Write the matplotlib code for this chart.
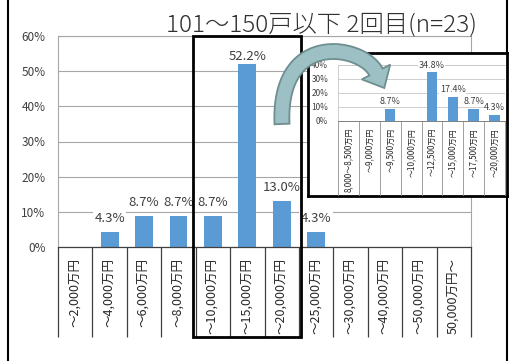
import matplotlib
matplotlib.use("Agg")
import matplotlib.pyplot as plt
import numpy as np
from matplotlib.patches import Rectangle, Polygon
from matplotlib.lines import Line2D

plt.rcParams['font.family'] = ['Noto Sans CJK JP', 'DejaVu Sans']

title = "101～150戸以下 2回目(n=23)"
categories = ["～2,000万円", "～4,000万円", "～6,000万円", "～8,000万円", "～10,000万円",
              "～15,000万円", "～20,000万円", "～25,000万円", "～30,000万円", "～40,000万円",
              "～50,000万円", "50,000万円～"]
values = [0, 4.3, 8.7, 8.7, 8.7, 52.2, 13.0, 4.3, 0, 0, 0, 0]
yticks = [0, 10, 20, 30, 40, 50, 60]

inset_categories = ["8,000～8,500万円", "～9,000万円", "～9,500万円", "～10,000万円",
                    "～12,500万円", "～15,000万円", "～17,500万円", "～20,000万円"]
inset_values = [0, 0, 8.7, 0, 34.8, 17.4, 8.7, 4.3]
inset_yticks = [0, 10, 20, 30, 40]

W, H = 511, 361
def fx(px): return px / W
def fy(py): return 1 - py / H

fig = plt.figure(figsize=(W / 100, H / 100), dpi=100)
fig.patch.set_facecolor('white')

BAR = '#5b9bd5'
GRID = '#a6a6a6'

# ---- main axes
ax = fig.add_axes([fx(58), fy(247), fx(471) - fx(58), fy(36) - fy(247)])
x = np.arange(len(categories))
ax.bar(x, values, width=0.52, color=BAR, zorder=2)
ax.set_xlim(-0.5, len(categories) - 0.5)
ax.set_ylim(0, 60)
ax.set_yticks(yticks)
ax.set_yticklabels([f"{t}%" for t in yticks], fontsize=8.5, color='#404040')
ax.tick_params(axis='y', length=0, pad=9)
ax.set_xticks([])
ax.grid(axis='y', color=GRID, lw=0.8, zorder=0)
ax.set_axisbelow(True)
for s in ['left', 'right', 'top']:
    ax.spines[s].set_color(GRID)
    ax.spines[s].set_linewidth(0.8)
ax.spines['bottom'].set_color('#404040')
ax.spines['bottom'].set_linewidth(0.9)

cell_depth = 25.7
ax.vlines(np.arange(len(categories) + 1) - 0.5, -cell_depth, 0, colors='#404040',
          lw=0.9, clip_on=False)
for i, c in enumerate(categories):
    ax.annotate(c, (i, 0), xytext=(0, -8), textcoords='offset points',
                rotation=90, ha='center', va='top', fontsize=9, color='#262626',
                annotation_clip=False)
for i, v in enumerate(values):
    if v > 0:
        off = 0.5 if v > 50 else 5
        ax.annotate(f"{v:.1f}%", (i, v), xytext=(0, off), textcoords='offset points',
                    ha='center', va='bottom', fontsize=9.5, color='#404040',
                    bbox=dict(boxstyle='square,pad=0.1', fc='white', ec='none'),
                    zorder=3)

# ---- title
fig.text(fx(322), fy(25), title, ha='center', va='center', fontsize=17.5,
         fontweight='light', color='#303030')

# ---- highlight box
fig.add_artist(Rectangle((fx(193), fy(337)), fx(301) - fx(193), fy(36) - fy(337),
                         fill=False, ec='black', lw=2, transform=fig.transFigure,
                         zorder=5))

# ---- outer vertical lines
for px in (8, 507):
    fig.add_artist(Line2D([fx(px), fx(px)], [0, 1], color='black', lw=1.5,
                          transform=fig.transFigure))

# ---- inset frame
frame = fig.add_axes([fx(308), fy(196), fx(507) - fx(308), fy(53) - fy(196)], zorder=6)
frame.set_facecolor('white')
frame.set_xticks([]); frame.set_yticks([])
for s in frame.spines.values():
    s.set_color('black'); s.set_linewidth(2)

ax2 = fig.add_axes([fx(338), fy(121), fx(505) - fx(338), fy(65) - fy(121)], zorder=7)
ax2.patch.set_alpha(0)
xi = np.arange(len(inset_categories))
ax2.bar(xi, inset_values, width=0.5, color=BAR, zorder=2)
ax2.set_xlim(-0.5, len(inset_categories) - 0.5)
ax2.set_ylim(0, 40)
ax2.set_yticks(inset_yticks)
ax2.set_yticklabels([f"{t}%" for t in inset_yticks], fontsize=6, color='#404040')
ax2.tick_params(axis='y', length=0, pad=7)
ax2.set_xticks([])
ax2.grid(axis='y', color='#c8c8c8', lw=0.6, zorder=0)
ax2.set_axisbelow(True)
for s in ['left', 'right', 'top']:
    ax2.spines[s].set_color('#c8c8c8'); ax2.spines[s].set_linewidth(0.6)
ax2.spines['right'].set_visible(False)
ax2.spines['bottom'].set_color('#808080'); ax2.spines['bottom'].set_linewidth(0.7)
ax2.vlines(np.arange(len(inset_categories) + 1) - 0.5, -60, 0, colors='#909090',
           lw=0.6, clip_on=True)
for l in ax2.collections:
    l.set_clip_box(frame.bbox)
for i, c in enumerate(inset_categories):
    t = ax2.annotate(c, (i, 0), xytext=(0, -5), textcoords='offset points',
                     rotation=90, ha='center', va='top', fontsize=5.8, color='#262626',
                     annotation_clip=False)
    t.set_clip_on(True)
    t.set_clip_box(frame.bbox)
for i, v in enumerate(inset_values):
    if v > 0:
        ax2.annotate(f"{v:.1f}%", (i, v), xytext=(0, 2), textcoords='offset points',
                     ha='center', va='bottom', fontsize=6.5, color='#404040',
                     bbox=dict(boxstyle='square,pad=0.05', fc='white', ec='none'),
                     zorder=3)

# ---- curved arrow (decoration), built in image-pixel space
P = np.array([[282, 124], [278, 30], [362, 45], [376, 72]], float)
tt = np.linspace(0, 1, 80)[:, None]
curve = ((1 - tt) ** 3) * P[0] + 3 * ((1 - tt) ** 2) * tt * P[1] \
    + 3 * (1 - tt) * tt ** 2 * P[2] + tt ** 3 * P[3]
deriv = 3 * ((1 - tt) ** 2) * (P[1] - P[0]) + 6 * (1 - tt) * tt * (P[2] - P[1]) \
    + 3 * tt ** 2 * (P[3] - P[2])
tan = deriv / np.linalg.norm(deriv, axis=1, keepdims=True)
nrm = np.column_stack([-tan[:, 1], tan[:, 0]])
hw, headw, headl = 7.5, 16, 18
sideA = curve + hw * nrm
sideB = curve - hw * nrm
end, tend, nend = curve[-1], tan[-1], nrm[-1]
tip = end + headl * tend
pts = np.vstack([sideA, end + headw * nend, tip, end - headw * nend, sideB[::-1]])
pts_fig = np.column_stack([pts[:, 0] / W, 1 - pts[:, 1] / H])
fig.add_artist(Polygon(pts_fig, closed=True, transform=fig.transFigure,
                       fc='#9cc0c3', ec='#6f8e90', lw=1.3, zorder=10))

fig.savefig("out.png", dpi=100)
